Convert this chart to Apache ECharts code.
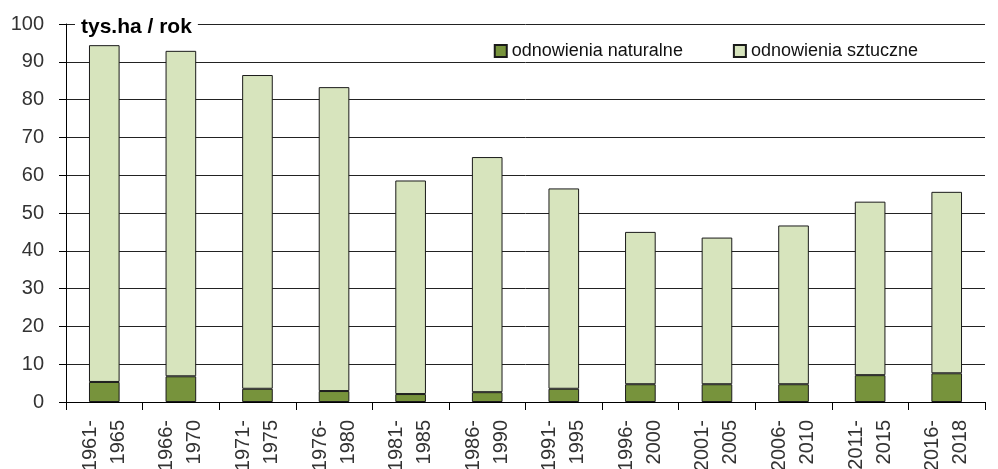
<!DOCTYPE html>
<html>
<head>
<meta charset="utf-8">
<script src="https://cdn.jsdelivr.net/npm/echarts@6/dist/echarts.min.js"></script>
<style>
  html, body { margin: 0; padding: 0; background: #fff; }
  #chart { width: 998px; height: 469px; }
</style>
</head>
<body>
<div id="chart"></div>
<script>
// Periods (five-year spans, last one shorter)
const periods = [
  '1961-\n1965', '1966-\n1970', '1971-\n1975', '1976-\n1980',
  '1981-\n1985', '1986-\n1990', '1991-\n1995', '1996-\n2000',
  '2001-\n2005', '2006-\n2010', '2011-\n2015', '2016-\n2018'
];
// Natural regeneration, thousand ha per year
const naturalRegen = [5.3, 6.8, 3.5, 2.9, 2.1, 2.6, 3.5, 4.7, 4.7, 4.7, 7.1, 7.6];
// Artificial regeneration, thousand ha per year
const artificialRegen = [89.1, 86.1, 83.0, 80.4, 56.5, 62.2, 53.0, 40.3, 38.8, 42.0, 45.9, 48.0];
// Value axis ticks
const yTicks = [0, 10, 20, 30, 40, 50, 60, 70, 80, 90, 100];

const FONT = '"Liberation Sans", Arial, sans-serif';
const LABEL_COLOR = '#333';
const chart = echarts.init(document.getElementById('chart'), null, { renderer: 'canvas' });

chart.setOption({
  animation: false,
  backgroundColor: '#fff',
  textStyle: { fontFamily: FONT },
  title: {
    text: 'tys.ha / rok',
    left: 75,
    top: 16,
    padding: [1, 6, 1, 6],
    backgroundColor: '#fff',
    textStyle: { fontFamily: FONT, fontSize: 21, fontWeight: 'bold', color: '#000' },
    z: 10
  },
  legend: {
    right: 75,
    top: 37,
    icon: 'rect',
    itemWidth: 12,
    itemHeight: 12,
    itemGap: 50,
    textStyle: { fontFamily: FONT, fontSize: 18, color: '#111' },
    data: ['odnowienia naturalne', 'odnowienia sztuczne']
  },
  grid: { left: 66, right: 13, top: 24, bottom: 67, outerBoundsMode: 'none', containLabel: false },
  xAxis: {
    type: 'category',
    data: periods,
    axisLine: { lineStyle: { color: '#000', width: 1 } },
    axisTick: { show: true, alignWithLabel: false, length: 8, lineStyle: { color: '#000' } },
    axisLabel: {
      rotate: 90,
      interval: 0,
      margin: 18,
      fontSize: 20,
      lineHeight: 28,
      color: LABEL_COLOR,
      fontFamily: FONT
    }
  },
  yAxis: {
    type: 'value',
    min: yTicks[0],
    max: yTicks[yTicks.length - 1],
    interval: 10,
    axisLine: { show: true, lineStyle: { color: '#000', width: 1 } },
    axisTick: { show: true, length: 7, lineStyle: { color: '#000' } },
    axisLabel: { fontSize: 20, color: LABEL_COLOR, margin: 22, fontFamily: FONT },
    splitLine: { lineStyle: { color: '#222', width: 1 } }
  },
  series: [
    {
      name: 'odnowienia naturalne',
      type: 'bar',
      stack: 'total',
      data: naturalRegen,
      barWidth: '40%',
      itemStyle: { color: '#77933C', borderColor: '#1a1a1a', borderWidth: 1 }
    },
    {
      name: 'odnowienia sztuczne',
      type: 'bar',
      stack: 'total',
      data: artificialRegen,
      barWidth: '40%',
      itemStyle: { color: '#D7E4BD', borderColor: '#1a1a1a', borderWidth: 1 }
    }
  ]
});
</script>
</body>
</html>
